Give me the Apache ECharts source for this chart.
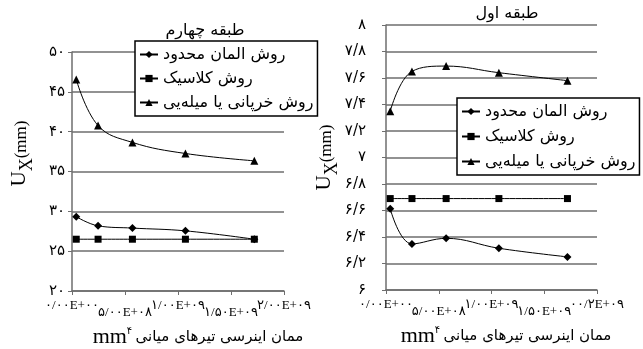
<!DOCTYPE html>
<html><head><meta charset="utf-8">
<script src="https://cdn.jsdelivr.net/npm/echarts@6/dist/echarts.min.js"></script>
<style>html,body{margin:0;padding:0;background:#fff}#c{width:643px;height:349px}</style>
</head><body><div id="c"></div>
<script>
// ---- data ----
const seriesNames = ['روش المان محدود', 'روش کلاسیک', 'روش خرپانی یا میله‌یی'];
const inertia = [4e7, 2.46e8, 5.7e8, 1.07e9, 1.72e9];
// fourth storey (left panel)
const fem4 = [29.33, 28.18, 27.9, 27.55, 26.5];
const classic4 = [26.5, 26.5, 26.5, 26.5, 26.5];
const truss4 = [46.56, 40.76, 38.65, 37.26, 36.34];
// first storey (right panel)
const fem1 = [6.613, 6.348, 6.39, 6.315, 6.25];
const classic1 = [6.69, 6.69, 6.69, 6.69, 6.69];
const truss1 = [7.35, 7.65, 7.69, 7.64, 7.58];
// tick labels
const yLabels4 = ['۲۰','۲۵','۳۰','۳۵','۴۰','۴۵','۵۰'];
const yLabels1 = ['۶','۶/۲','۶/۴','۶/۶','۶/۸','۷','۷/۲','۷/۴','۷/۶','۷/۸','۸'];
const xLabels4 = ['۰/۰۰E+۰۰','۵/۰۰E+۰۸','۱/۰۰E+۰۹','۱/۵۰E+۰۹','۲/۰۰E+۰۹'];
const xLabels1 = ['۰/۰۰E+۰۰','۵/۰۰E+۰۸','۱/۰۰E+۰۹','۱/۵۰E+۰۹','۰۰/۲E+۰۹'];
const titles = ['طبقه چهارم', 'طبقه اول'];
const xName = 'ممان اینرسی تیرهای میانی';

const FA = '"Liberation Serif","DejaVu Sans",serif';
const FP = '"DejaVu Sans",sans-serif';
const GRID = '#6e6e6e';
const symbols = ['diamond', 'rect', 'triangle'];
const symSizes = [8, 7, 8];

function pairs(ys) { return inertia.map((x, i) => [x, ys[i]]); }

// main x axis: line, ticks, even labels, name
function xAxisCfg(gi, labels, padLeft) {
  return {
    type: 'value', gridIndex: gi, min: 0, max: 2e9, interval: 5e8,
    axisLine: {show: true, lineStyle: {color: GRID, width: 1.5}},
    axisTick: {show: true, length: 4, lineStyle: {color: GRID}},
    splitLine: {show: false},
    axisLabel: {
      fontFamily: FA, fontSize: 13, color: '#000', margin: 8,
      showMinLabel: true, showMaxLabel: true, hideOverlap: false,
      formatter: (v) => { const k = Math.round(v / 5e8); return k % 2 ? '' : labels[k]; }
    },
    name: '{a|mm}{s|۴} {b|' + xName + '}', nameLocation: 'middle', nameGap: 35,
    nameTextStyle: {padding: [0, 0, 0, padLeft], rich: {
      a: {fontFamily: FA, fontSize: 22, color: '#000', verticalAlign: 'bottom'},
      s: {fontFamily: FP, fontSize: 10, color: '#000', verticalAlign: 'top', padding: [0,0,10,0]},
      b: {fontFamily: FP, fontSize: 15, color: '#000'}
    }}
  };
}
// companion x axis carrying the staggered (lower) odd labels
function xAxisOddCfg(gi, labels) {
  return {
    type: 'value', gridIndex: gi, position: 'bottom', min: 0, max: 2e9, interval: 5e8,
    axisLine: {show: false}, axisTick: {show: false}, splitLine: {show: false},
    axisLabel: {
      fontFamily: FA, fontSize: 13, color: '#000', margin: 15,
      showMinLabel: true, showMaxLabel: true, hideOverlap: false,
      formatter: (v) => { const k = Math.round(v / 5e8); return k % 2 ? labels[k] : ''; }
    }
  };
}
function yAxisCfg(gi, min, max, interval, labels, margin, namePad) {
  return {
    type: 'value', gridIndex: gi, min: min, max: max, interval: interval,
    axisLine: {show: true, lineStyle: {color: GRID, width: 1.5}},
    axisTick: {show: true, length: 4, lineStyle: {color: GRID}},
    splitLine: {show: true, lineStyle: {color: GRID, width: 1.5}},
    axisLabel: {fontFamily: FP, fontSize: 15, color: '#000', margin: margin,
      showMinLabel: true, showMaxLabel: true,
      formatter: (v, i) => labels[Math.round((v - min) / interval)]},
    name: '{u|U}{x|X}{m|(mm)}', nameLocation: 'middle', nameRotate: 90, nameGap: 42,
    nameTextStyle: {padding: namePad, rich: {
      u: {fontFamily: FA, fontSize: 21, color: '#000', lineHeight: 26, verticalAlign: 'bottom'},
      x: {fontFamily: FA, fontSize: 18, color: '#000', lineHeight: 26, verticalAlign: 'bottom', padding: [0,0,-6,0]},
      m: {fontFamily: FA, fontSize: 17, color: '#000', lineHeight: 26, verticalAlign: 'bottom'}
    }}
  };
}
function makeSeries(gi, arrs) {
  return arrs.map((arr, i) => ({
    name: seriesNames[i], type: 'line', xAxisIndex: gi, yAxisIndex: gi,
    data: pairs(arr), smooth: 0.4, symbol: symbols[i], symbolSize: symSizes[i],
    lineStyle: {color: '#000', width: 1}, itemStyle: {color: '#000'},
    emphasis: {disabled: true}, animation: false, z: 3
  }));
}
function legendCfg(left, top, gap) {
  return {
    data: seriesNames, orient: 'vertical', left: left, top: top,
    backgroundColor: '#fff', borderColor: '#000', borderWidth: 1.5,
    padding: [4, 4, 4, 4], itemGap: gap, itemWidth: 18, itemHeight: 9,
    textStyle: {fontFamily: FP, fontSize: 16, color: '#000', lineHeight: 19},
    selectedMode: false
  };
}

const chart = echarts.init(document.getElementById('c'), null, {renderer: 'canvas'});
chart.setOption({
  animation: false,
  backgroundColor: '#fff',
  grid: [
    {left: 72, right: 643 - 284, top: 52, bottom: 349 - 291, outerBoundsMode: 'none', containLabel: false},
    {left: 386, right: 643 - 597, top: 25, bottom: 349 - 290, outerBoundsMode: 'none', containLabel: false}
  ],
  title: [
    {text: titles[0], left: 200, top: 18, textAlign: 'center',
     textStyle: {fontFamily: FP, fontSize: 16, fontWeight: 'normal', color: '#000'}},
    {text: titles[1], left: 502, top: 1, textAlign: 'center',
     textStyle: {fontFamily: FP, fontSize: 16, fontWeight: 'normal', color: '#000'}}
  ],
  legend: [legendCfg(135, 41, 5), legendCfg(457, 98, 6)],
  xAxis: [xAxisCfg(0, xLabels4, 40), xAxisCfg(1, xLabels1, 29), xAxisOddCfg(0, xLabels4), xAxisOddCfg(1, xLabels1)],
  yAxis: [yAxisCfg(0, 20, 50, 5, yLabels4, 7, [0, 0, 0, 36]), yAxisCfg(1, 6, 8, 0.2, yLabels1, 20, [0, 0, 0, 0])],
  series: makeSeries(0, [fem4, classic4, truss4]).concat(makeSeries(1, [fem1, classic1, truss1]))
});
</script></body></html>
